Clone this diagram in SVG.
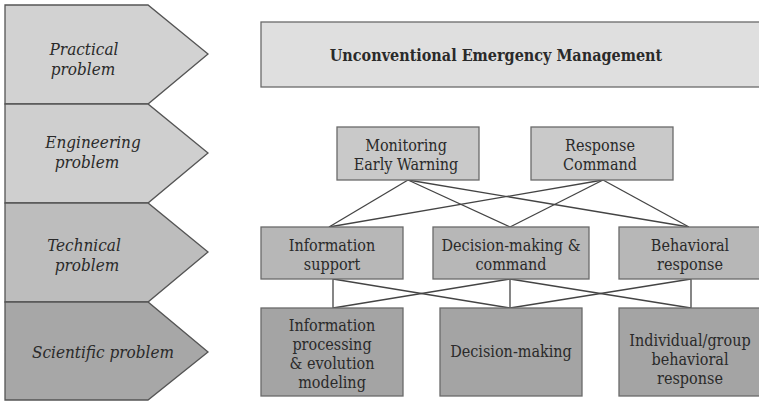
<svg xmlns="http://www.w3.org/2000/svg" width="759" height="403" viewBox="0 0 759 403">
  <style>
    .lvl { stroke: #555; stroke-width: 1.3; }
    .lvl-t { font-family: "DejaVu Serif Condensed", "DejaVu Serif", serif; font-stretch: condensed; font-style: italic; font-size: 17px; fill: #2a2a2a; text-anchor: middle; }
    .box { stroke: #6a6a6a; stroke-width: 1.3; }
    .box-t { font-family: "DejaVu Serif Condensed", "DejaVu Serif", serif; font-stretch: condensed; font-size: 16px; fill: #2a2a2a; text-anchor: middle; }
    .title-t { font-family: "DejaVu Serif Condensed", "DejaVu Serif", serif; font-stretch: condensed; font-weight: bold; font-size: 16px; fill: #2a2a2a; text-anchor: middle; }
    .c1 { fill: #d2d2d2; }
    .c2 { fill: #cfcfcf; }
    .c3 { fill: #bdbdbd; }
    .c4 { fill: #a7a7a7; }
    .top { fill: #dfdfdf; }
    .r1 { fill: #c9c9c9; }
    .r2 { fill: #b7b7b7; }
    .r3 { fill: #a4a4a4; }
    .conn line { stroke: #444; stroke-width: 1.3; }
  </style>

  <!-- problem levels -->
  <g id="level-practical">
    <polygon class="lvl c1" points="5,5 148,5 208,54 148,104 5,104"/>
    <text class="lvl-t" x="84" y="55">Practical</text>
    <text class="lvl-t" x="83" y="75">problem</text>
  </g>
  <g id="level-engineering">
    <polygon class="lvl c2" points="5,104 148,104 208,153 148,203 5,203"/>
    <text class="lvl-t" x="93" y="148">Engineering</text>
    <text class="lvl-t" x="87" y="168">problem</text>
  </g>
  <g id="level-technical">
    <polygon class="lvl c3" points="5,203 148,203 208,252 148,302 5,302"/>
    <text class="lvl-t" x="84" y="251">Technical</text>
    <text class="lvl-t" x="87" y="271">problem</text>
  </g>
  <g id="level-scientific">
    <polygon class="lvl c4" points="5,302 148,302 208,352 148,400 5,400"/>
    <text class="lvl-t" x="103" y="358">Scientific problem</text>
  </g>

  <!-- connectors -->
  <g id="connectors" class="conn">
    <line x1="408" y1="180" x2="329" y2="227"/>
    <line x1="408" y1="180" x2="510" y2="227"/>
    <line x1="408" y1="180" x2="689" y2="227"/>
    <line x1="603" y1="180" x2="329" y2="227"/>
    <line x1="603" y1="180" x2="510" y2="227"/>
    <line x1="603" y1="180" x2="689" y2="227"/>

    <line x1="333" y1="279" x2="333" y2="308"/>
    <line x1="333" y1="279" x2="510" y2="308"/>
    <line x1="510" y1="279" x2="333" y2="308"/>
    <line x1="510" y1="279" x2="510" y2="308"/>
    <line x1="510" y1="279" x2="691" y2="308"/>
    <line x1="691" y1="279" x2="510" y2="308"/>
    <line x1="691" y1="279" x2="691" y2="308"/>
  </g>

  <!-- practical -->
  <g id="node-uem">
    <rect class="box top" x="261" y="22" width="505" height="65"/>
    <text class="title-t" x="496" y="61">Unconventional Emergency Management</text>
  </g>

  <!-- engineering -->
  <g id="node-monitoring">
    <rect class="box r1" x="337" y="127" width="142" height="53"/>
    <text class="box-t" x="406" y="151">Monitoring</text>
    <text class="box-t" x="406" y="170">Early Warning</text>
  </g>
  <g id="node-response-command">
    <rect class="box r1" x="531" y="127" width="142" height="53"/>
    <text class="box-t" x="600" y="151">Response</text>
    <text class="box-t" x="600" y="170">Command</text>
  </g>

  <!-- technical -->
  <g id="node-info-support">
    <rect class="box r2" x="261" y="227" width="142" height="52"/>
    <text class="box-t" x="332" y="251">Information</text>
    <text class="box-t" x="332" y="270">support</text>
  </g>
  <g id="node-decision-command">
    <rect class="box r2" x="433" y="227" width="156" height="52"/>
    <text class="box-t" x="511" y="251">Decision-making &amp;</text>
    <text class="box-t" x="511" y="270">command</text>
  </g>
  <g id="node-behavioral-response">
    <rect class="box r2" x="619" y="227" width="147" height="52"/>
    <text class="box-t" x="690" y="251">Behavioral</text>
    <text class="box-t" x="690" y="270">response</text>
  </g>

  <!-- scientific -->
  <g id="node-info-processing">
    <rect class="box r3" x="261" y="308" width="142" height="88"/>
    <text class="box-t" x="332" y="331">Information</text>
    <text class="box-t" x="332" y="350">processing</text>
    <text class="box-t" x="332" y="369">&amp; evolution</text>
    <text class="box-t" x="332" y="388">modeling</text>
  </g>
  <g id="node-decision-making">
    <rect class="box r3" x="440" y="308" width="142" height="88"/>
    <text class="box-t" x="511" y="357">Decision-making</text>
  </g>
  <g id="node-group-behavior">
    <rect class="box r3" x="619" y="308" width="147" height="88"/>
    <text class="box-t" x="690" y="346">Individual/group</text>
    <text class="box-t" x="690" y="365">behavioral</text>
    <text class="box-t" x="690" y="384">response</text>
  </g>
</svg>
